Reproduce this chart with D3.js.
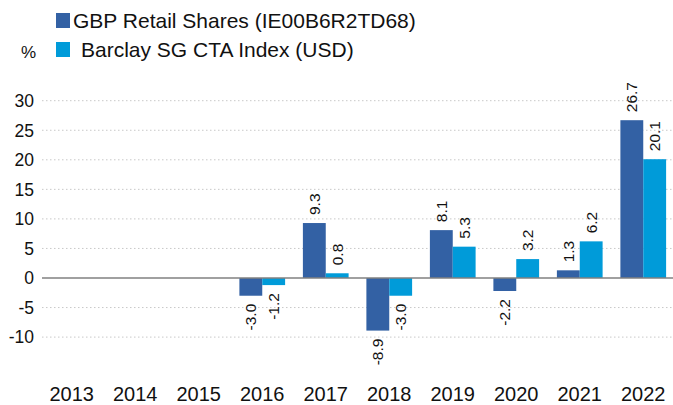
<!DOCTYPE html>
<html>
<head>
<meta charset="utf-8">
<script src="https://cdn.jsdelivr.net/npm/d3@7.9.0/dist/d3.min.js"></script>
<style>
  html, body { margin: 0; padding: 0; background: #fff; }
  svg { display: block; font-family: "Liberation Sans", Arial, sans-serif; }
</style>
</head>
<body>
<svg id="chart" width="673" height="405"></svg>
<script>
const years = ["2013", "2014", "2015", "2016", "2017", "2018", "2019", "2020", "2021", "2022"];
const gbpShares = [null, null, null, -3.0, 9.3, -8.9, 8.1, -2.2, 1.3, 26.7];
const ctaIndex = [null, null, null, -1.2, 0.8, -3.0, 5.3, 3.2, 6.2, 20.1];
const yTicks = [-10, -5, 0, 5, 10, 15, 20, 25, 30];
const seriesNames = ["GBP Retail Shares (IE00B6R2TD68)", "Barclay SG CTA Index (USD)"];
const colors = ["#3361a4", "#009bd9"];

const svg = d3.select("#chart");

const x = d3.scaleBand()
  .domain(years)
  .range([40, 675])
  .paddingInner(0.28)
  .paddingOuter(0.14);

const xSeries = d3.scaleBand()
  .domain([0, 1])
  .range([0, x.bandwidth()]);

const y = d3.scaleLinear()
  .domain([0, 30])
  .range([278, 100.7]);

// gridlines
svg.append("g")
  .selectAll("line")
  .data(yTicks.filter(d => d !== 0))
  .join("line")
  .attr("x1", 42)
  .attr("x2", 673)
  .attr("y1", d => y(d))
  .attr("y2", d => y(d))
  .attr("stroke", "#c8c8c8")
  .attr("stroke-width", 1)
  .attr("stroke-dasharray", "1.5,2.5");

// y tick labels
svg.append("g")
  .selectAll("text")
  .data(yTicks)
  .join("text")
  .attr("x", 34)
  .attr("y", d => y(d))
  .attr("dy", "0.36em")
  .attr("text-anchor", "end")
  .attr("font-size", "17.5px")
  .attr("fill", "#111")
  .text(d => d);

// bars
const series = [gbpShares, ctaIndex];
series.forEach((vals, i) => {
  const pts = years.map((yr, j) => ({ year: yr, value: vals[j] })).filter(d => d.value !== null);

  svg.append("g")
    .selectAll("rect")
    .data(pts)
    .join("rect")
    .attr("x", d => x(d.year) + xSeries(i))
    .attr("width", xSeries.bandwidth())
    .attr("y", d => y(Math.max(0, d.value)))
    .attr("height", d => Math.abs(y(d.value) - y(0)))
    .attr("fill", colors[i]);

  svg.append("g")
    .selectAll("text")
    .data(pts)
    .join("text")
    .attr("transform", d => {
      const cx = x(d.year) + xSeries(i) + xSeries.bandwidth() / 2;
      const cy = d.value >= 0 ? y(d.value) - 8 : y(d.value) + 8;
      return `translate(${cx},${cy}) rotate(-90)`;
    })
    .attr("dy", "0.36em")
    .attr("text-anchor", d => d.value >= 0 ? "start" : "end")
    .attr("font-size", "15.5px")
    .attr("fill", "#111")
    .text(d => d.value.toFixed(1));
});

// zero line
svg.append("line")
  .attr("x1", 42)
  .attr("x2", 673)
  .attr("y1", y(0))
  .attr("y2", y(0))
  .attr("stroke", "#808080")
  .attr("stroke-width", 1.5);

// x labels
svg.append("g")
  .selectAll("text")
  .data(years)
  .join("text")
  .attr("x", d => x(d) + x.bandwidth() / 2)
  .attr("y", 401)
  .attr("text-anchor", "middle")
  .attr("font-size", "20px")
  .attr("fill", "#111")
  .text(d => d);

// unit label
svg.append("text")
  .attr("x", 21)
  .attr("y", 58)
  .attr("font-size", "17px")
  .attr("fill", "#111")
  .text("%");

// legend
const legend = svg.append("g");
const legendRows = [
  { y: 13, textX: 73, baseline: 28 },
  { y: 42, textX: 81, baseline: 57 }
];
legend.selectAll("rect")
  .data(seriesNames)
  .join("rect")
  .attr("x", 56)
  .attr("y", (d, i) => legendRows[i].y)
  .attr("width", 14)
  .attr("height", 15)
  .attr("fill", (d, i) => colors[i]);
legend.selectAll("text")
  .data(seriesNames)
  .join("text")
  .attr("x", (d, i) => legendRows[i].textX)
  .attr("y", (d, i) => legendRows[i].baseline)
  .attr("font-size", "21px")
  .attr("fill", "#111")
  .text(d => d);
</script>
</body>
</html>
